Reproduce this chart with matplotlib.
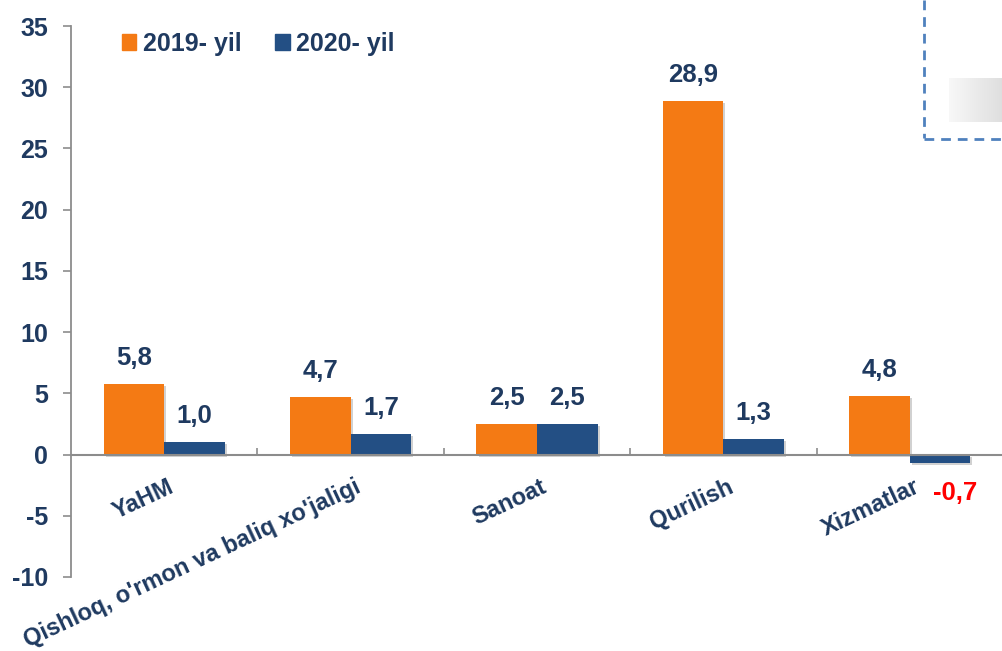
import matplotlib
matplotlib.use("Agg")
import matplotlib.pyplot as plt
import matplotlib.patheffects as pe
from matplotlib.patches import Rectangle
from matplotlib.lines import Line2D
import numpy as np

categories = ["YaHM", "Qishloq, o'rmon va baliq xo'jaligi", "Sanoat", "Qurilish", "Xizmatlar"]
series_names = ["2019- yil", "2020- yil"]
values_2019 = [5.8, 4.7, 2.5, 28.9, 4.8]
values_2020 = [1.0, 1.7, 2.5, 1.3, -0.7]
yticks = [-10, -5, 0, 5, 10, 15, 20, 25, 30, 35]

ORANGE = "#F47A14"
BLUE = "#234F84"
NAVY = "#1F3A60"
GREY = "#8C8C8C"

plt.rcParams['font.family'] = ['Liberation Sans', 'DejaVu Sans']
plt.rcParams['font.weight'] = 'bold'

fig = plt.figure(figsize=(10.03, 6.51), dpi=100)
ax = fig.add_axes([71/1003, 1-577/651, 1-71/1003, (577-26)/651])

x = np.arange(len(categories))
w = 0.325
shadow = [pe.SimplePatchShadow(offset=(1.5, -1.5), alpha=0.18, shadow_rgbFace='k'), pe.Normal()]
b1 = ax.bar(x - w/2, values_2019, w, color=ORANGE, label=series_names[0], zorder=3)
b2 = ax.bar(x + w/2, values_2020, w, color=BLUE, label=series_names[1], zorder=3)
for b in list(b1) + list(b2):
    b.set_path_effects(shadow)

def fmt(v):
    return f"{v:.1f}".replace(".", ",")

LBL = 18.5
for xi, v in zip(x - w/2, values_2019):
    ax.annotate(fmt(v), (xi, v), xytext=(0, 10), textcoords="offset points",
                ha="center", va="bottom", fontsize=LBL, fontweight="bold", color=NAVY)
for xi, v in zip(x + w/2, values_2020):
    if v >= 0:
        ax.annotate(fmt(v), (xi, v), xytext=(0, 10), textcoords="offset points",
                    ha="center", va="bottom", fontsize=LBL, fontweight="bold", color=NAVY)
    else:
        ax.annotate(fmt(v), (xi + 0.08, v), xytext=(0, -13), textcoords="offset points",
                    ha="center", va="top", fontsize=LBL, fontweight="bold", color="#FF0000")

ax.set_xlim(-0.5, -0.5 + (1003 - 71) / 187.5)
ax.set_ylim(-10, 35)
ax.set_yticks(yticks)
ax.set_yticklabels([str(t) for t in yticks], fontsize=18, fontweight="bold", color=NAVY)
ax.tick_params(axis="y", direction="out", length=5.5, width=1.2, color=GREY, pad=11)

ax.set_xticks(np.arange(len(categories)) + 0.5)
ax.set_xticklabels([])
ax.tick_params(axis="x", direction="in", length=5, width=1.2, color=GREY)

for s in ["top", "right"]:
    ax.spines[s].set_visible(False)
ax.spines["left"].set_color(GREY)
ax.spines["left"].set_linewidth(1.3)
ax.spines["bottom"].set_position(("data", 0))
ax.spines["bottom"].set_color(GREY)
ax.spines["bottom"].set_linewidth(1.5)
ax.spines["bottom"].set_zorder(4)

for xi, cat in zip(x, categories):
    ax.annotate(cat, (xi + 0.02, 0), xytext=(0, -15), textcoords="offset points",
                ha="right", va="top", rotation=25, rotation_mode="anchor",
                fontsize=17, fontweight="bold", color=NAVY, annotation_clip=False)

handles = [Rectangle((0, 0), 1, 1, color=ORANGE), Rectangle((0, 0), 1, 1, color=BLUE)]
leg = fig.legend(handles, series_names, loc="upper left", bbox_to_anchor=(112/1003, 1-22/651),
                 frameon=False, ncol=2, fontsize=18, handlelength=0.58, handleheight=0.58,
                 handletextpad=0.25, columnspacing=1.35, borderaxespad=0)
for t in leg.get_texts():
    t.set_color(NAVY)
    t.set_fontweight("bold")

# dashed box at top right
fig.add_artist(Line2D([924/1003, 924/1003], [1, 1-138/651], color="#4F81BD", lw=2,
                      ls=(0, (3.5, 2.5)), transform=fig.transFigure))
fig.add_artist(Line2D([924/1003, 1], [1-139/651, 1-139/651], color="#4F81BD", lw=2,
                      ls=(0, (3.5, 2.5)), transform=fig.transFigure))
grad = np.linspace(0.97, 0.87, 64)[None, :] * np.ones((16, 1))
gax = fig.add_axes([949/1003, 1-122/651, 54/1003, 44/651])
gax.imshow(grad, cmap="gray", vmin=0, vmax=1, aspect="auto", interpolation="bicubic")
gax.axis("off")

fig.savefig("out.png", dpi=100)
